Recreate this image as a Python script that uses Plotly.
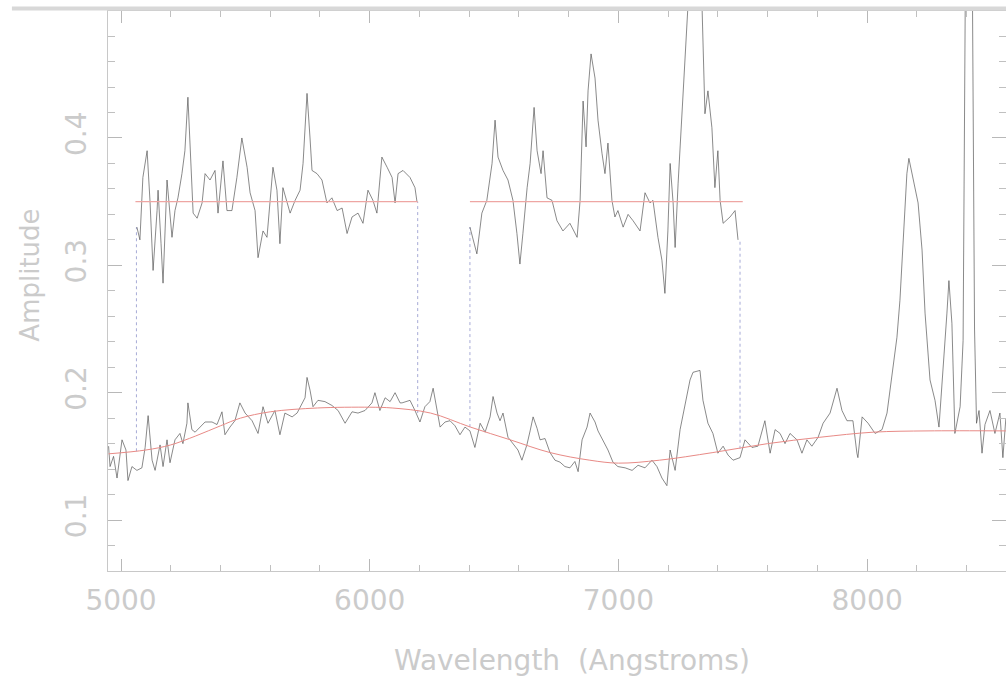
import plotly.graph_objects as go

# ---- bottom spectrum (wavelength in Angstroms, amplitude) ----
spec_wl = [4950, 4956, 4970, 4984, 5004, 5020, 5028, 5044, 5064, 5084, 5097, 5109, 5125, 5137,
           5157, 5169, 5185, 5197, 5217, 5237, 5249, 5265, 5269, 5285, 5298, 5318, 5338, 5366,
           5386, 5406, 5418, 5438, 5458, 5478, 5499, 5527, 5551, 5571, 5591, 5619, 5639, 5659,
           5688, 5708, 5740, 5748, 5760, 5772, 5792, 5820, 5848, 5873, 5901, 5929, 5953, 5981,
           6009, 6021, 6041, 6062, 6082, 6102, 6122, 6130, 6162, 6182, 6202, 6222, 6242, 6255,
           6271, 6283, 6303, 6323, 6343, 6363, 6383, 6403, 6423, 6444, 6464, 6484, 6496, 6512,
           6524, 6536, 6556, 6576, 6596, 6612, 6632, 6645, 6657, 6673, 6685, 6705, 6725, 6745,
           6765, 6785, 6805, 6825, 6838, 6854, 6874, 6886, 6906, 6918, 6938, 6958, 6978, 6998,
           7027, 7055, 7079, 7107, 7135, 7155, 7175, 7195, 7208, 7228, 7248, 7268, 7288, 7300,
           7328, 7340, 7360, 7380, 7400, 7421, 7441, 7461, 7489, 7509, 7537, 7561, 7589, 7610,
           7630, 7650, 7670, 7690, 7718, 7738, 7758, 7778, 7803, 7823, 7851, 7879, 7899, 7919,
           7943, 7959, 7963, 7980, 8004, 8032, 8060, 8080, 8100, 8120, 8132, 8144, 8160, 8168,
           8185, 8205, 8221, 8233, 8253, 8273, 8289, 8305, 8321, 8329, 8341, 8353, 8374, 8386,
           8396, 8412, 8424, 8432, 8440, 8450, 8462, 8474, 8494, 8514, 8534, 8546, 8558]
spec_amp = [0.158, 0.142, 0.150, 0.133, 0.163, 0.155, 0.131, 0.142, 0.139, 0.141, 0.157, 0.182, 0.147, 0.139,
            0.159, 0.142, 0.163, 0.145, 0.163, 0.168, 0.160, 0.176, 0.192, 0.171, 0.169, 0.173, 0.177, 0.177,
            0.175, 0.185, 0.167, 0.173, 0.178, 0.192, 0.184, 0.178, 0.168, 0.189, 0.176, 0.186, 0.167, 0.184,
            0.181, 0.184, 0.196, 0.212, 0.202, 0.189, 0.194, 0.193, 0.190, 0.186, 0.176, 0.185, 0.184, 0.186,
            0.192, 0.200, 0.186, 0.196, 0.193, 0.200, 0.192, 0.192, 0.194, 0.186, 0.177, 0.189, 0.193, 0.2035,
            0.186, 0.173, 0.177, 0.178, 0.174, 0.167, 0.173, 0.170, 0.157, 0.176, 0.169, 0.181, 0.197, 0.184,
            0.178, 0.184, 0.165, 0.160, 0.155, 0.147, 0.159, 0.170, 0.181, 0.172, 0.163, 0.164, 0.153, 0.147,
            0.1455, 0.142, 0.141, 0.146, 0.138, 0.163, 0.173, 0.184, 0.177, 0.170, 0.163, 0.155, 0.1455, 0.142,
            0.141, 0.139, 0.143, 0.141, 0.147, 0.142, 0.133, 0.127, 0.155, 0.139, 0.171, 0.192, 0.210, 0.216,
            0.2175, 0.194, 0.176, 0.168, 0.1525, 0.158, 0.151, 0.147, 0.149, 0.163, 0.157, 0.158, 0.178, 0.1525,
            0.171, 0.168, 0.160, 0.168, 0.163, 0.1525, 0.163, 0.158, 0.165, 0.176, 0.184, 0.2035, 0.186, 0.178,
            0.178, 0.1525, 0.149, 0.181, 0.176, 0.168, 0.171, 0.184, 0.215, 0.2435, 0.2725, 0.320, 0.372, 0.384,
            0.367, 0.349, 0.312, 0.2625, 0.210, 0.194, 0.173, 0.215, 0.2625, 0.288, 0.2545, 0.168, 0.189, 0.241,
            0.55, 0.62, 0.50, 0.25, 0.176, 0.186, 0.1525, 0.175, 0.186, 0.168, 0.184, 0.149, 0.180]

# ---- continuum fit ----
cont_wl = [4950, 5100, 5200, 5300, 5400, 5480, 5600, 5790, 6000, 6090, 6245, 6405, 6565, 6725,
           6885, 7000, 7165, 7380, 7600, 7810, 8025, 8245, 8558]
cont_amp = [0.152, 0.155, 0.159, 0.166, 0.174, 0.180, 0.185, 0.188, 0.1886, 0.188, 0.184, 0.173, 0.163, 0.153,
            0.147, 0.1447, 0.147, 0.153, 0.160, 0.165, 0.169, 0.170, 0.170]

# ---- upper (normalised, offset) segments ----
seg1_wl = [5064, 5076, 5088, 5105, 5117, 5129, 5145, 5149, 5161, 5169, 5185, 5197, 5205, 5217, 5229,
           5245, 5257, 5269, 5281, 5290, 5306, 5326, 5338, 5358, 5378, 5390, 5410, 5426, 5446, 5466,
           5486, 5507, 5519, 5539, 5551, 5571, 5587, 5603, 5611, 5627, 5639, 5651, 5667, 5680, 5700,
           5720, 5732, 5748, 5760, 5768, 5788, 5808, 5828, 5848, 5869, 5889, 5909, 5929, 5953, 5973,
           5993, 6013, 6029, 6041, 6049, 6070, 6090, 6102, 6114, 6134, 6162, 6182, 6190]
seg1_amp = [0.330, 0.320, 0.369, 0.390, 0.349, 0.296, 0.343, 0.359, 0.317, 0.286, 0.367, 0.343, 0.322, 0.343, 0.353,
            0.372, 0.390, 0.432, 0.377, 0.341, 0.337, 0.349, 0.372, 0.367, 0.3745, 0.341, 0.382, 0.343, 0.343, 0.369,
            0.400, 0.377, 0.357, 0.343, 0.306, 0.327, 0.322, 0.357, 0.377, 0.359, 0.317, 0.361, 0.349, 0.341, 0.351,
            0.359, 0.380, 0.435, 0.400, 0.3745, 0.372, 0.367, 0.349, 0.353, 0.343, 0.345, 0.325, 0.338, 0.341, 0.333,
            0.359, 0.351, 0.341, 0.369, 0.385, 0.377, 0.369, 0.349, 0.372, 0.3745, 0.369, 0.361, 0.350]

seg2_wl = [6403, 6431, 6451, 6471, 6492, 6504, 6516, 6536, 6556, 6576, 6592, 6604, 6616, 6633, 6645,
           6661, 6673, 6689, 6697, 6713, 6733, 6753, 6777, 6805, 6834, 6846, 6858, 6870, 6878, 6890,
           6906, 6918, 6934, 6946, 6958, 6974, 6986, 6998, 7019, 7039, 7059, 7087, 7107, 7127, 7139,
           7159, 7175, 7187, 7199, 7208, 7220, 7228, 7240, 7256, 7268, 7280, 7300, 7320, 7336, 7348,
           7360, 7376, 7388, 7400, 7409, 7421, 7449, 7469, 7481]
seg2_amp = [0.330, 0.309, 0.341, 0.351, 0.380, 0.414, 0.385, 0.3745, 0.367, 0.351, 0.325, 0.301, 0.325, 0.361, 0.380,
            0.424, 0.390, 0.372, 0.390, 0.353, 0.351, 0.335, 0.327, 0.333, 0.322, 0.351, 0.429, 0.393, 0.437, 0.466,
            0.447, 0.414, 0.388, 0.372, 0.396, 0.351, 0.338, 0.343, 0.330, 0.340, 0.335, 0.327, 0.357, 0.349, 0.351,
            0.322, 0.304, 0.278, 0.327, 0.380, 0.349, 0.314, 0.364, 0.416, 0.461, 0.505, 0.540, 0.530, 0.505, 0.419,
            0.437, 0.408, 0.361, 0.390, 0.351, 0.333, 0.338, 0.343, 0.320]

# levels of the fitted line for the upper segments and the window edges
level = 0.35
win_edges = [5062, 6193, 6403, 7489]
win_low = [0.154, 0.184, 0.173, 0.156]
win_high = [0.330, 0.350, 0.330, 0.320]
red_x = [[5058, 6193], [6403, 7500]]

GRAY_TXT = "#cbcbcb"
AX = "#c8c8c8"
FONT = "DejaVu Sans ExtraLight, DejaVu Sans"
RED = "#e88a86"
RED_LIGHT = "#eea6a3"

fig = go.Figure()

# dotted window markers
for wx, lo, hi in zip(win_edges, win_low, win_high):
    fig.add_trace(go.Scatter(x=[wx, wx], y=[lo, hi], mode="lines",
                             line=dict(color="#a7abd6", width=1, dash="dot"),
                             showlegend=False, hoverinfo="skip"))

# spectra
line_style = dict(color="rgba(80,80,80,0.75)", width=0.9)
fig.add_trace(go.Scatter(x=spec_wl, y=spec_amp, mode="lines", line=line_style, showlegend=False))
fig.add_trace(go.Scatter(x=seg1_wl, y=seg1_amp, mode="lines", line=line_style, showlegend=False))
fig.add_trace(go.Scatter(x=seg2_wl, y=seg2_amp, mode="lines", line=line_style, showlegend=False))

# continuum fit
fig.add_trace(go.Scatter(x=cont_wl, y=cont_amp, mode="lines",
                         line=dict(color=RED, width=1, shape="spline", smoothing=1.0),
                         showlegend=False))
# red level lines for the upper segments
for xs in red_x:
    fig.add_trace(go.Scatter(x=xs, y=[level, level], mode="lines",
                             line=dict(color=RED_LIGHT, width=1.2), showlegend=False))

fig.update_layout(
    width=1006, height=677,
    margin=dict(l=108, r=0, t=11, b=106),
    paper_bgcolor="white", plot_bgcolor="white",
    showlegend=False,
    font=dict(family=FONT, color=GRAY_TXT),
    xaxis=dict(range=[4947.7, 8558.5], showgrid=False, zeroline=False,
               showline=True, linecolor=AX, linewidth=1, mirror="ticks",
               ticks="inside", ticklen=12, tickcolor="#b8b8b8", tickwidth=1,
               tick0=5000, dtick=1000,
               minor=dict(ticks="inside", ticklen=6, dtick=200, tick0=5000, tickcolor="#c0c0c0"),
               tickfont=dict(family=FONT, size=28, color=GRAY_TXT),
               ticklabelstandoff=4),
    yaxis=dict(range=[0.06, 0.4997], showgrid=False, zeroline=False,
               showline=True, linecolor=AX, linewidth=1, mirror="ticks",
               ticks="inside", ticklen=14, tickcolor="#b8b8b8", tickwidth=1,
               tick0=0.1, dtick=0.1, tickformat=".1f", tickangle=-90,
               minor=dict(ticks="inside", ticklen=7, dtick=0.02, tick0=0.1, tickcolor="#c0c0c0"),
               tickfont=dict(family=FONT, size=28, color=GRAY_TXT),
               ticklabelstandoff=10),
    annotations=[
        dict(text="Wavelength  (Angstroms)", xref="paper", yref="paper", x=0.517, y=-0.159,
             xanchor="center", yanchor="middle", showarrow=False,
             font=dict(family=FONT, size=28, color=GRAY_TXT)),
        dict(text="Amplitude", xref="paper", yref="paper", x=-0.087, y=0.529,
             xanchor="center", yanchor="middle", showarrow=False, textangle=-90,
             font=dict(family=FONT, size=26, color=GRAY_TXT)),
    ],
    shapes=[
        dict(type="line", xref="paper", yref="paper", x0=-0.107, x1=1.0, y0=1.0045, y1=1.0045,
             line=dict(color="#d8d8d8", width=4), layer="above"),
    ],
)

fig.write_html("out.html", config={"displayModeBar": False},
               post_script="document.body.style.margin='0';")
